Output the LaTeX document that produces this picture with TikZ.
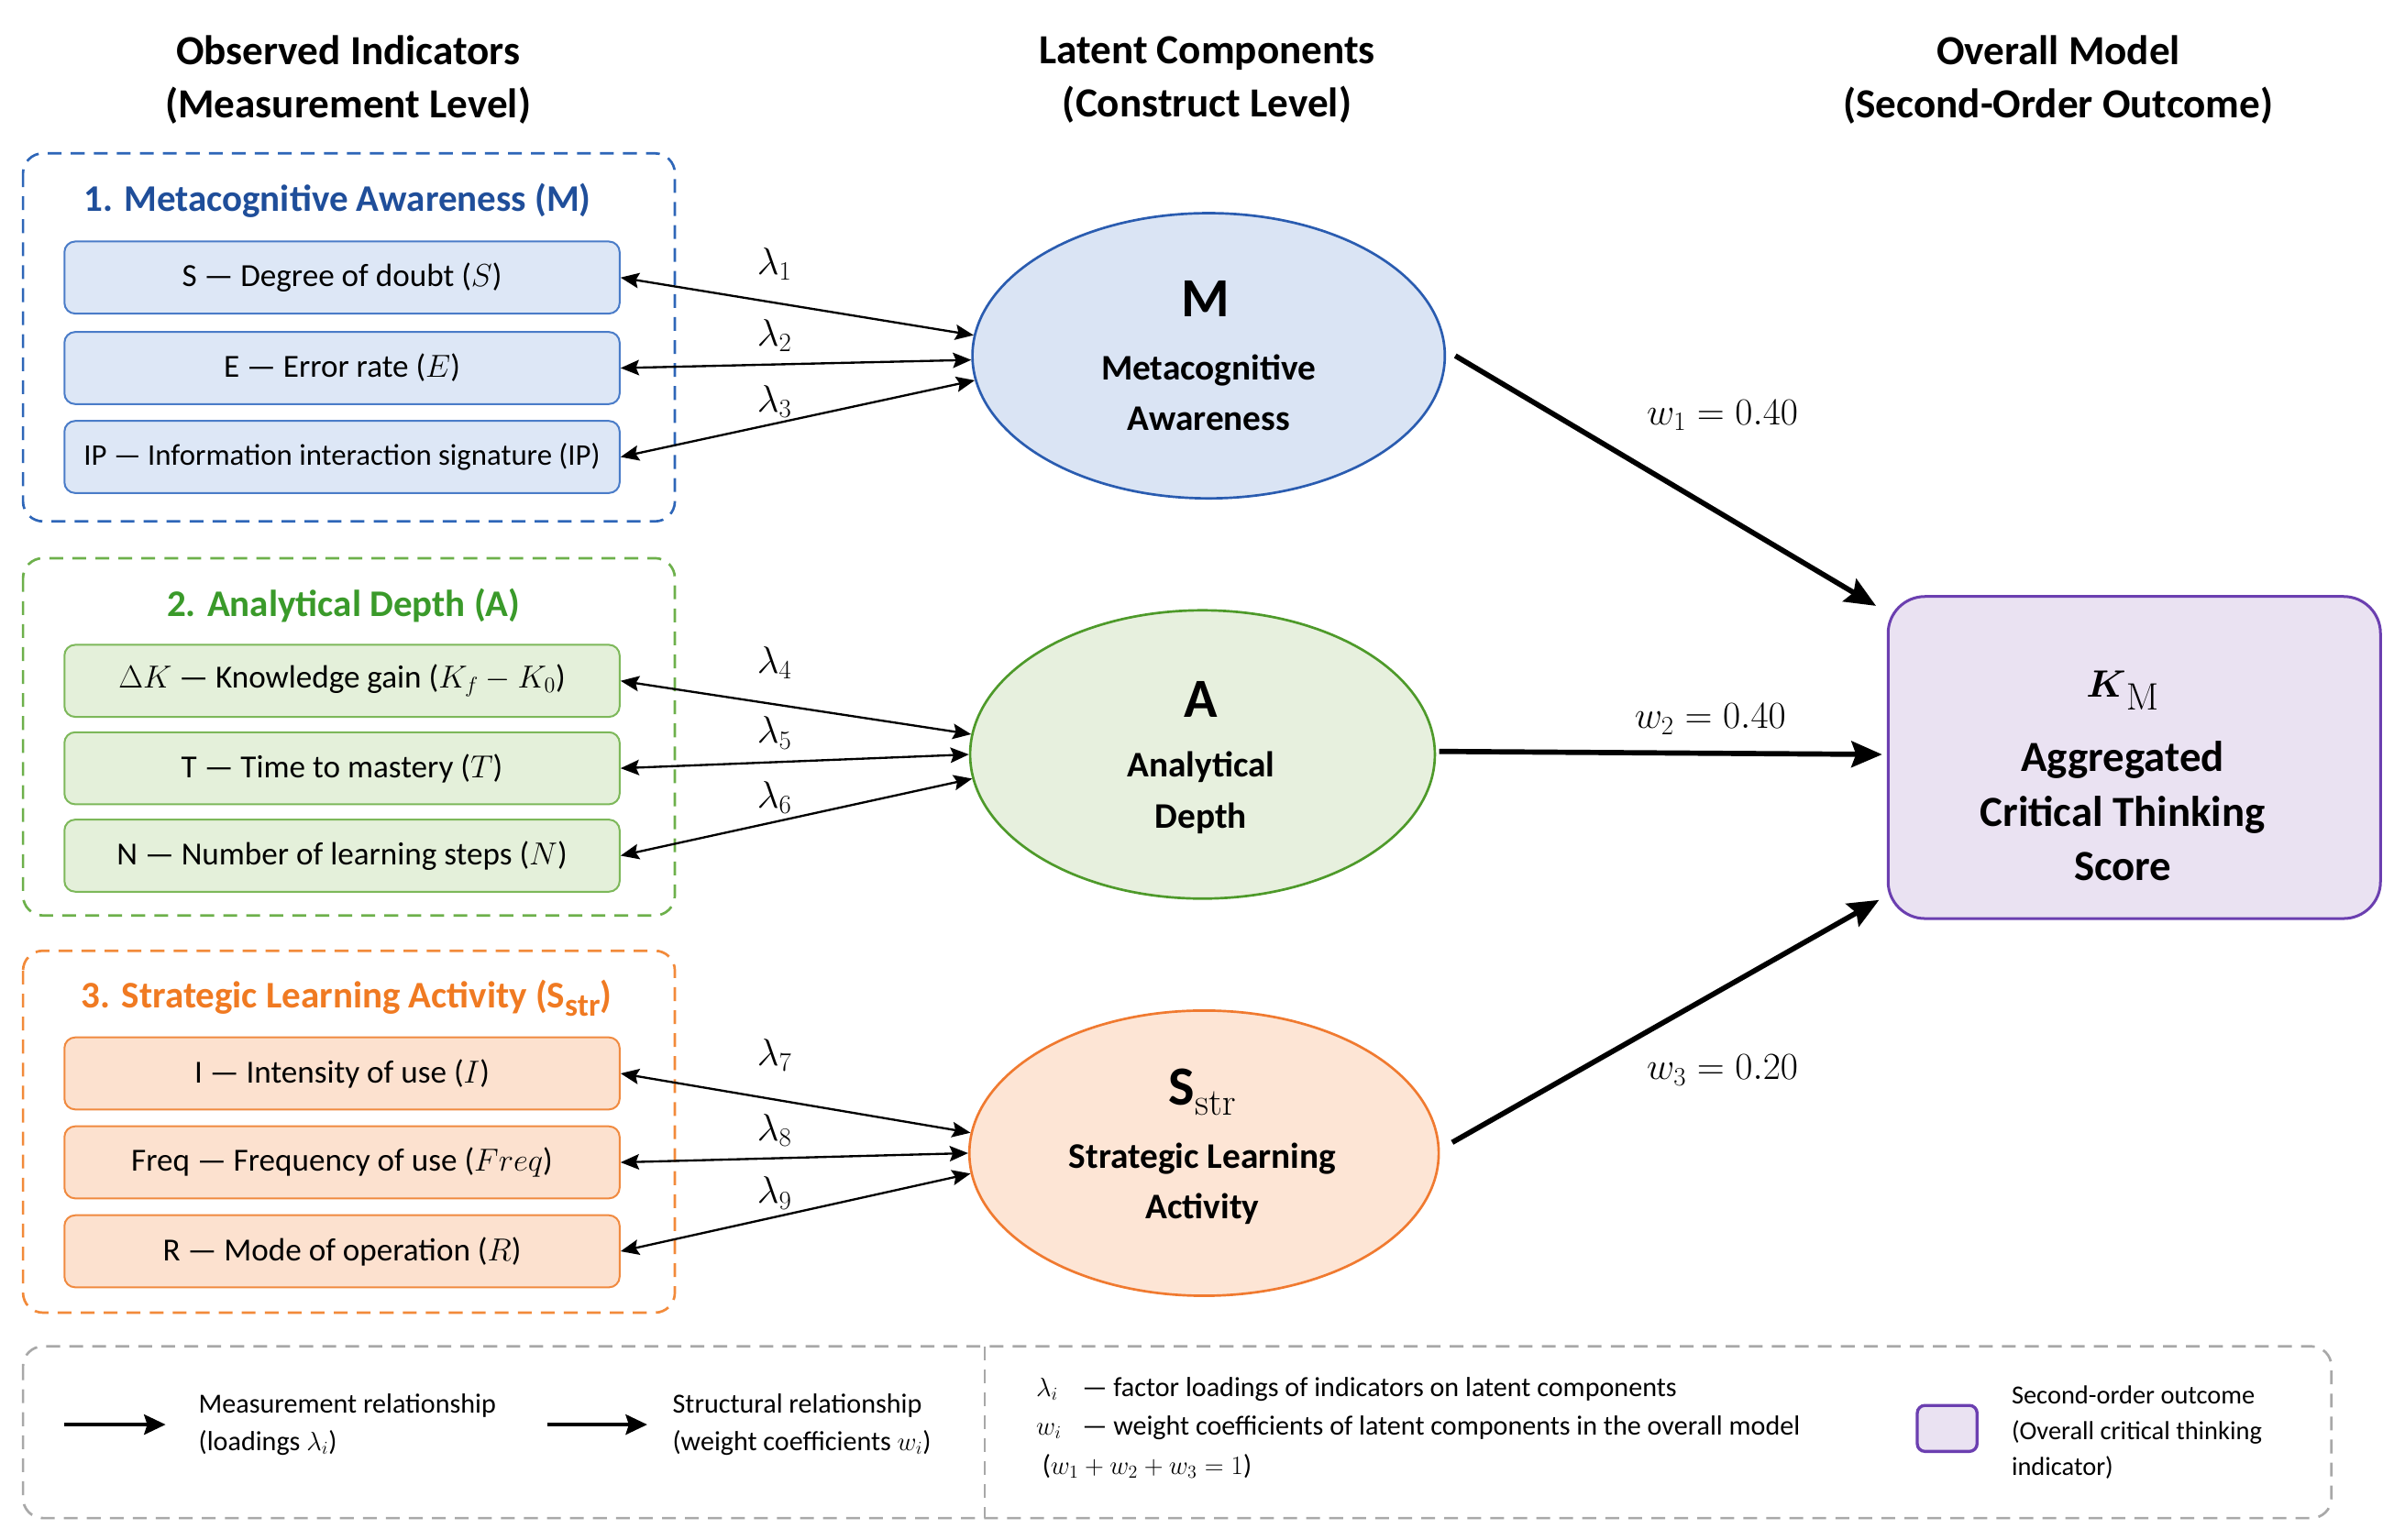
\documentclass[tikz,border=0pt]{standalone}
\usepackage[no-math]{fontspec}
\setmainfont{Carlito}
\usetikzlibrary{shapes.geometric,arrows.meta,calc}
\definecolor{bT}{HTML}{1F4E9A}
\definecolor{bD}{HTML}{2E66B8}
\definecolor{bF}{HTML}{DDE7F6}
\definecolor{bB}{HTML}{4A7CC8}
\definecolor{bE}{HTML}{DAE4F4}
\definecolor{bEB}{HTML}{2A5CB0}
\definecolor{gT}{HTML}{3A9A2A}
\definecolor{gD}{HTML}{6DB04B}
\definecolor{gF}{HTML}{E4F0DA}
\definecolor{gB}{HTML}{7DB85A}
\definecolor{gE}{HTML}{E7F0DE}
\definecolor{gEB}{HTML}{4E9A2A}
\definecolor{oT}{HTML}{F07A22}
\definecolor{oD}{HTML}{F28A3A}
\definecolor{oF}{HTML}{FCE1CF}
\definecolor{oB}{HTML}{F08A40}
\definecolor{oE}{HTML}{FDE5D5}
\definecolor{oEB}{HTML}{F07A30}
\definecolor{pF}{HTML}{EAE2F2}
\definecolor{pB}{HTML}{6B3FB0}
\definecolor{lgD}{HTML}{A8A8A8}
\tikzset{
 hdr/.style={font=\fontsize{27}{35}\selectfont\bfseries, align=center},
 gtitle/.style={font=\fontsize{24.5}{28}\selectfont\bfseries},
 itembox/.style={draw, line width=1.2pt, rounded corners=7pt, minimum width=362pt, minimum height=47pt, inner sep=0pt, font=\fontsize{21}{24}\selectfont},
 grp/.style={line width=1.6pt, dash pattern=on 9pt off 6pt, rounded corners=13pt},
 lat/.style={ellipse, draw, line width=1.6pt, inner sep=0pt},
 lettr/.style={font=\fontsize{36}{40}\selectfont\bfseries},
 lattxt/.style={font=\fontsize{23.5}{33}\selectfont\bfseries, align=center},
 load/.style={{Stealth[length=12pt,width=10pt,inset=2pt]}-{Stealth[length=12pt,width=10pt,inset=2pt]}, line width=1.4pt},
 struct/.style={-{Stealth[length=20pt,width=17pt,inset=3pt]}, line width=3.4pt},
 lam/.style={font=\fontsize{25}{28}\selectfont},
 wlab/.style={font=\fontsize{25.5}{28}\selectfont},
 legtxt/.style={font=\fontsize{18}{24}\selectfont, align=left},
 legtxtr/.style={font=\fontsize{17}{23.5}\selectfont, align=left}
}
\tikzset{legarrow/.style={-{Stealth[length=14pt,width=13pt,inset=2pt]}, line width=2.6pt}}
\begin{document}
\begin{tikzpicture}[x=1pt,y=-1pt]
\useasboundingbox[fill=white] (0,0) rectangle (1568,1004);

% headers
\node[hdr] (h1) at (227,52) {Observed Indicators\\(Measurement Level)};
\node[hdr] (h2) at (787,52) {Latent Components\\(Construct Level)};
\node[hdr] (h3) at (1342,52) {Overall Model\\(Second-Order Outcome)};

% group boxes
\draw[grp, draw=bD] (15,100) rectangle (440,340);
\draw[grp, draw=gD] (15,364) rectangle (440,597);
\draw[grp, draw=oD] (15,620) rectangle (440,856);

\node[gtitle, text=bT] (t1) at (220,131) {1. Metacognitive Awareness (M)};
\node[gtitle, text=gT] (t2) at (224,395) {2. Analytical Depth (A)};
\node[gtitle, text=oT] (t3) at (226,651) {3. Strategic Learning Activity (S{\fontsize{21}{22}\selectfont\raisebox{-5pt}{str}})};

% items
\node[itembox, fill=bF, draw=bB] (i1) at (223,181) {S — Degree of doubt ($S$)};
\node[itembox, fill=bF, draw=bB] (i2) at (223,240) {E — Error rate ($E$)};
\node[itembox, fill=bF, draw=bB, font=\fontsize{19.6}{24}\selectfont] (i3) at (223,298) {IP — Information interaction signature (IP)};
\node[itembox, fill=gF, draw=gB] (i4) at (223,444) {$\Delta K$ — Knowledge gain ($K_f - K_0$)};
\node[itembox, fill=gF, draw=gB] (i5) at (223,501) {T — Time to mastery ($T$)};
\node[itembox, fill=gF, draw=gB] (i6) at (223,558) {N — Number of learning steps ($N$)};
\node[itembox, fill=oF, draw=oB] (i7) at (223,700) {I — Intensity of use ($I$)};
\node[itembox, fill=oF, draw=oB] (i8) at (223,758) {Freq — Frequency of use ($Freq$)};
\node[itembox, fill=oF, draw=oB] (i9) at (223,816) {R — Mode of operation ($R$)};

% latent ellipses
\node[lat, fill=bE, draw=bEB, minimum width=308pt, minimum height=186pt] (M) at (788,232) {};
\node[lettr] (Ml) at (786,195) {M};
\node[lattxt] (Mt) at (788,256) {Metacognitive\\Awareness};

\node[lat, fill=gE, draw=gEB, minimum width=303pt, minimum height=188pt] (A) at (784,492) {};
\node[lettr] (Al) at (783,456) {A};
\node[lattxt] (At) at (783,517) {Analytical\\Depth};

\node[lat, fill=oE, draw=oEB, minimum width=306pt, minimum height=186pt] (S) at (785,752) {};
\node[lettr] (Sl) at (784,712) {S$_{\mathrm{str}}$};
\node[lattxt] (St) at (784,772) {Strategic Learning\\Activity};

% outcome box
\node[draw=pB, fill=pF, line width=1.8pt, rounded corners=24pt, minimum width=321pt, minimum height=210pt] (K) at (1391.5,494) {};
\node[font=\fontsize{38}{40}\selectfont] (Kl) at (1384,450) {$\mbox{\boldmath$K$}_{\mathrm{M}}$};
\node[font=\fontsize{28}{35.5}\selectfont\bfseries, align=center] (Kt) at (1384,529) {Aggregated\\Critical Thinking\\Score};

% loading arrows
\draw[load] (i1.east) -- (M.175.5);
\draw[load] (i2.east) -- (M.181.5);
\draw[load] (i3.east) -- (M.186.5);
\draw[load] (i4.east) -- (A.175.5);
\draw[load] (i5.east) -- (A.180.5);
\draw[load] (i6.east) -- (A.186);
\draw[load] (i7.east) -- (S.175.5);
\draw[load] (i8.east) -- (S.180.5);
\draw[load] (i9.east) -- (S.185.5);

\node[lam] (l1) at (505,172) {$\lambda_1$};
\node[lam] (l2) at (505,219) {$\lambda_2$};
\node[lam] (l3) at (505,262) {$\lambda_3$};
\node[lam] (l4) at (505,432) {$\lambda_4$};
\node[lam] (l5) at (505,478) {$\lambda_5$};
\node[lam] (l6) at (505,520) {$\lambda_6$};
\node[lam] (l7) at (505,688) {$\lambda_7$};
\node[lam] (l8) at (505,737) {$\lambda_8$};
\node[lam] (l9) at (505,778) {$\lambda_9$};

% structural arrows
\draw[struct] ($(M.east)+(6,0)$) -- ($(K.north west)+(-7,7)$);
\draw[struct] ($(A.east)+(2,-2)$) -- ($(K.west)+(-3,-2)$);
\draw[struct] ($(S.east)+(8,-7)$) -- ($(K.south west)+(-5,-13)$);

\node[wlab] (w1) at (1123,271) {$w_1 = 0.40$};
\node[wlab] (w2) at (1115,469) {$w_2 = 0.40$};
\node[wlab] (w3) at (1123,698) {$w_3 = 0.20$};

% legend
\draw[lgD, line width=1.6pt, dash pattern=on 9pt off 6pt, rounded corners=13pt] (15,878) rectangle (1520,990);
\draw[lgD, line width=1.4pt, dash pattern=on 9pt off 6pt] (642,878) -- (642,990);

\coordinate (la1) at (42,929);
\coordinate (lb1) at (108,929);
\draw[legarrow] (la1) -- (lb1);
\node[legtxt, anchor=west] (lt1) at (126,929) {Measurement relationship\\(loadings $\lambda_i$)};
\coordinate (la2) at (357,929);
\coordinate (lb2) at (422,929);
\draw[legarrow] (la2) -- (lb2);
\node[legtxt, anchor=west] (lt2) at (435,929) {Structural relationship\\(weight coefficients $w_i$)};

\node[legtxt, anchor=west] (lt3) at (672,906) {\makebox[30pt][l]{$\lambda_i$}— factor loadings of indicators on latent components};
\node[legtxt, anchor=west] (lt4) at (672,931) {\makebox[30pt][l]{$w_i$}— weight coefficients of latent components in the overall model};
\node[legtxt, anchor=west] (lt5) at (676,956) {($w_1 + w_2 + w_3 = 1$)};

\node[draw=pB, fill=pF, line width=2pt, rounded corners=5pt, minimum width=39pt, minimum height=30pt] (lbox) at (1269.5,931.5) {};
\node[legtxtr, anchor=west] (lt6) at (1308,934) {Second-order outcome\\(Overall critical thinking\\indicator)};
\end{tikzpicture}
\end{document}
